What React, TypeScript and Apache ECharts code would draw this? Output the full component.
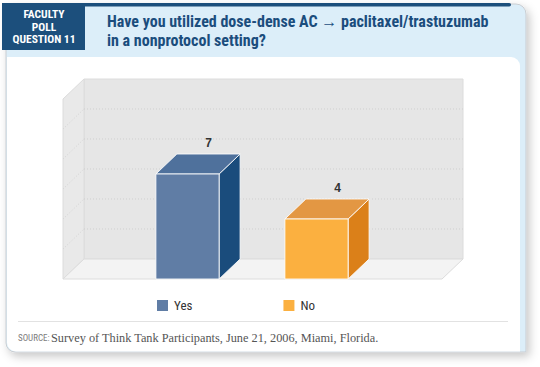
import React, { useEffect, useRef } from "react";
import * as echarts from "echarts";

// ---- data ----
const categories = ["Yes", "No"];
const values = [7, 4];
const yTicks = [0, 2, 4, 6, 8, 10, 12];
const headerLines = ["FACULTY", "POLL", "QUESTION 11"];
const titleLines = ["Have you utilized dose-dense AC \u2192 paclitaxel/trastuzumab", "in a nonprotocol setting?"];
const sourceLabel = "SOURCE:";
const sourceText = "Survey of Think Tank Participants, June 21, 2006, Miami, Florida.";

// ---- styles ----
const frontColors = ["#607da5", "#fbb040"];
const topColors = ["#4f719c", "#e39743"];
const sideColors = ["#1a4c7c", "#db8019"];
const DEPTH = [21, -20];
const NARROW = "'Liberation Sans Narrow', 'Roboto Condensed', 'Liberation Sans', Arial, sans-serif";

export default function App() {
  const ref = useRef<HTMLDivElement>(null);

  useEffect(() => {
    if (!ref.current) return;
    const chart = echarts.init(ref.current, null, { renderer: "svg" });
    const [dx, dy] = DEPTH;
    const yMin = yTicks[0];
    const yMax = yTicks[yTicks.length - 1];

    const frameSeries = {
      type: "custom",
      name: "frame",
      z: 1,
      silent: true,
      data: [[0, 0]],
      renderItem: (params: any, api: any) => {
        const cs = params.coordSys;
        const yOf = (v: number) => api.coord([0, v])[1];
        const left = cs.x - 60;
        const right = cs.x + cs.width + 61;
        const y0 = yOf(yMin);
        const yT = yOf(yMax);
        const children: any[] = [
          {
            type: "rect",
            shape: { x: left + dx, y: yT + dy, width: right - left, height: y0 - yT },
            style: { fill: "#e6e6e6", stroke: "#dcdcdc", lineWidth: 1 },
          },
          {
            type: "polygon",
            shape: { points: [[left, y0], [left, yT], [left + dx, yT + dy], [left + dx, y0 + dy]] },
            style: { fill: "#e9e9e9", stroke: "#dcdcdc", lineWidth: 1 },
          },
          {
            type: "polygon",
            shape: { points: [[left, y0], [left + dx, y0 + dy], [right + dx, y0 + dy], [right, y0]] },
            style: { fill: "#f3f3f3", stroke: "#dcdcdc", lineWidth: 1 },
          },
        ];
        yTicks.slice(1, -1).forEach((t) => {
          const yy = yOf(t);
          children.push({
            type: "line",
            shape: { x1: left + dx, y1: yy + dy, x2: right + dx, y2: yy + dy },
            style: { stroke: "#cfcfcf", lineWidth: 1, lineDash: [1, 2] },
          });
          children.push({
            type: "line",
            shape: { x1: left, y1: yy, x2: left + dx, y2: yy + dy },
            style: { stroke: "#d3d3d3", lineWidth: 1, lineDash: [1, 2] },
          });
        });
        return { type: "group", children };
      },
    };

    const barSeries = categories.map((cat, i) => ({
      type: "custom",
      name: cat,
      z: 3,
      itemStyle: { color: frontColors[i] },
      data: [[i, values[i]]],
      renderItem: (params: any, api: any) => {
        const idx = api.value(0);
        const v = api.value(1);
        const [cx, yv] = api.coord([idx, v]);
        const yb = api.coord([idx, 0])[1];
        const bw = api.size([1, 0])[0] * 0.49;
        const x0 = cx - bw / 2;
        const x1 = cx + bw / 2;
        return {
          type: "group",
          children: [
            {
              type: "polygon",
              shape: { points: [[x1, yv], [x1 + dx, yv + dy], [x1 + dx, yb + dy], [x1, yb]] },
              style: { fill: sideColors[i], stroke: "rgba(255,255,255,0.85)", lineWidth: 1 },
            },
            {
              type: "polygon",
              shape: { points: [[x0, yv], [x0 + dx, yv + dy], [x1 + dx, yv + dy], [x1, yv]] },
              style: { fill: topColors[i], stroke: "rgba(255,255,255,0.85)", lineWidth: 1 },
            },
            {
              type: "rect",
              shape: { x: x0, y: yv, width: bw, height: yb - yv },
              style: { fill: frontColors[i], stroke: "rgba(255,255,255,0.85)", lineWidth: 1 },
            },
            {
              type: "text",
              style: {
                text: String(v),
                x: cx + dx,
                y: yv + dy - 5,
                align: "center",
                verticalAlign: "bottom",
                fill: "#333333",
                font: "bold 12px 'Liberation Sans', Arial, sans-serif",
              },
            },
          ],
        };
      },
    }));

    chart.setOption({
      animation: false,
      grid: { left: 123, width: 258, top: 99, height: 180 },
      xAxis: { type: "category", data: categories, show: false, boundaryGap: true },
      yAxis: { type: "value", min: yMin, max: yMax, interval: 2, show: false },
      legend: {
        data: categories,
        left: 157,
        top: 299,
        icon: "rect",
        itemWidth: 11,
        itemHeight: 11,
        itemGap: 91,
        padding: 0,
        textStyle: { color: "#333333", fontSize: 13, fontFamily: NARROW, padding: [0, 0, 0, 1] },
      },
      graphic: [
        {
          type: "rect",
          z: 0,
          shape: { x: 6, y: 4, width: 520, height: 348, r: [0, 10, 0, 9] },
          style: {
            fill: "#dceef9",
            stroke: "#c9cdd1",
            lineWidth: 1,
            shadowBlur: 10,
            shadowColor: "rgba(0,0,0,0.22)",
            shadowOffsetX: 3,
            shadowOffsetY: 4,
          },
        },
        {
          type: "rect",
          z: 0,
          shape: { x: 7, y: 57, width: 513, height: 294.5, r: [0, 9, 0, 9] },
          style: { fill: "#ffffff" },
        },
        {
          type: "rect",
          z: 0,
          shape: { x: 84, y: 3, width: 427, height: 3.5, r: [0, 2, 2, 0] },
          style: { fill: "#1c4f7c" },
        },
        {
          type: "rect",
          z: 0,
          shape: { x: 2, y: 3, width: 83, height: 47 },
          style: { fill: "#1c4f7c" },
        },
        ...headerLines.map((t, i) => ({
          type: "text",
          z: 1,
          style: {
            text: t,
            x: 44,
            y: 14 + i * 12.7,
            align: "center",
            verticalAlign: "middle",
            fill: "#ffffff",
            font: "bold 11.5px " + NARROW,
          },
        })),
        ...titleLines.map((t, i) => ({
          type: "text",
          z: 1,
          style: {
            text: t,
            x: 107,
            y: 21 + i * 19,
            verticalAlign: "middle",
            fill: "#1b4d7d",
            font: "bold 16px " + NARROW,
          },
        })),
        {
          type: "line",
          z: 1,
          shape: { x1: 18, y1: 321.5, x2: 508, y2: 321.5 },
          style: { stroke: "#e2e2e2", lineWidth: 1 },
        },
        {
          type: "text",
          z: 1,
          style: {
            text: sourceLabel,
            x: 18,
            y: 338,
            verticalAlign: "middle",
            fill: "#7c7c7c",
            font: "9px " + NARROW,
          },
        },
        {
          type: "text",
          z: 1,
          style: {
            text: sourceText,
            x: 51,
            y: 338,
            verticalAlign: "middle",
            fill: "#555555",
            font: "12.3px 'Liberation Serif', 'Times New Roman', serif",
          },
        },
      ],
      series: [frameSeries, ...barSeries],
    });

    return () => chart.dispose();
  }, []);

  return (
    <div
      ref={ref}
      style={{ position: "absolute", left: 0, top: 0, width: 540, height: 367, background: "#ffffff" }}
    />
  );
}
